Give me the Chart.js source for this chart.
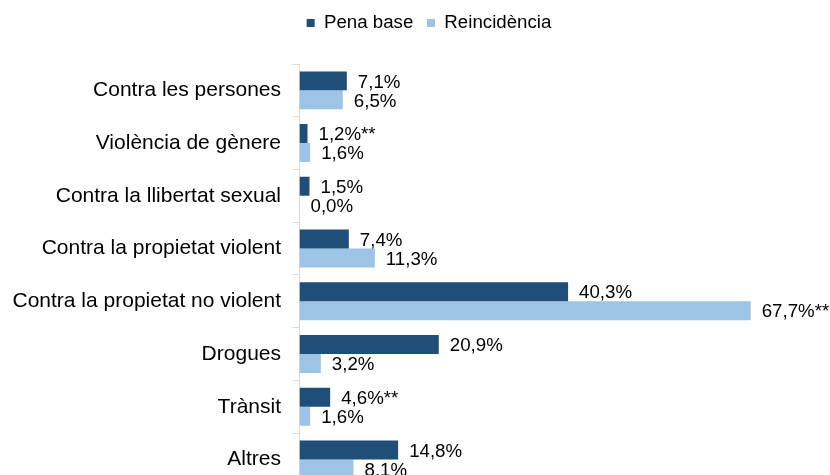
<!DOCTYPE html>
<html><head><meta charset="utf-8">
<script src="https://cdn.jsdelivr.net/npm/chart.js@4.4.0/dist/chart.umd.min.js"></script>
<style>
html,body{margin:0;padding:0;overflow:hidden;background:#fff;width:830px;height:475px}
#wrap{position:absolute;left:0;top:0;width:850px;height:510px}
</style>
</head><body><div id="wrap"><canvas id="c" width="850" height="510"></canvas></div>
<script>
const categories = [
  'Contra les persones',
  'Violència de gènere',
  'Contra la llibertat sexual',
  'Contra la propietat violent',
  'Contra la propietat no violent',
  'Drogues',
  'Trànsit',
  'Altres'
];
const seriesNames = ['Pena base', 'Reincidència'];
const penaBase = [7.1, 1.2, 1.5, 7.4, 40.3, 20.9, 4.6, 14.8];
const reincidencia = [6.5, 1.6, 0.0, 11.3, 67.7, 3.2, 1.6, 8.1];
const penaBaseMarks = ['', '**', '', '', '', '', '**', ''];
const reincidenciaMarks = ['', '', '', '', '**', '', '', ''];

const FONT = '"Liberation Sans", Arial, Helvetica, sans-serif';
const fmt = v => v.toFixed(1).replace('.', ',') + '%';

const valueLabels = {
  id: 'valueLabels',
  afterDatasetsDraw(chart) {
    const ctx = chart.ctx;
    ctx.save();
    ctx.font = '18.7px ' + FONT;
    ctx.fillStyle = '#000';
    ctx.textAlign = 'left';
    ctx.textBaseline = 'middle';
    chart.data.datasets.forEach((ds, i) => {
      const meta = chart.getDatasetMeta(i);
      meta.data.forEach((el, j) => {
        ctx.fillText(fmt(ds.data[j]) + ds.marks[j], el.x + 11, el.y + 1.5);
      });
    });
    ctx.restore();
  }
};

new Chart(document.getElementById('c'), {
  type: 'bar',
  data: {
    labels: categories,
    datasets: [
      { label: seriesNames[0], data: penaBase, marks: penaBaseMarks, backgroundColor: '#1F4E79', borderWidth: 0 },
      { label: seriesNames[1], data: reincidencia, marks: reincidenciaMarks, backgroundColor: '#9DC3E6', borderWidth: 0 }
    ]
  },
  options: {
    indexAxis: 'y',
    responsive: false,
    animation: false,
    devicePixelRatio: 1,
    categoryPercentage: 0.72,
    barPercentage: 1.0,
    layout: { padding: { left: 12, right: 4, top: 0, bottom: 14 } },
    plugins: {
      legend: {
        position: 'top',
        align: 'center',
        labels: {
          boxWidth: 8, boxHeight: 8, padding: 13.65,
          color: '#000',
          font: { family: FONT, size: 18.7 }
        }
      },
      tooltip: { enabled: false }
    },
    scales: {
      x: {
        position: 'top',
        min: 0, max: 82,
        grid: { display: false },
        border: { display: false },
        ticks: { display: false },
        afterFit: s => { s.height = 21.65; }
      },
      y: {
        grid: { drawOnChartArea: false, drawTicks: true, tickLength: 7, color: '#D9D9D9', offset: true },
        border: { display: true, color: '#D9D9D9' },
        ticks: { color: '#000', padding: 11.5, font: { family: FONT, size: 21 } },
        afterFit: s => { s.width = 287.5; }
      }
    }
  },
  plugins: [valueLabels]
});
</script>
</body></html>
